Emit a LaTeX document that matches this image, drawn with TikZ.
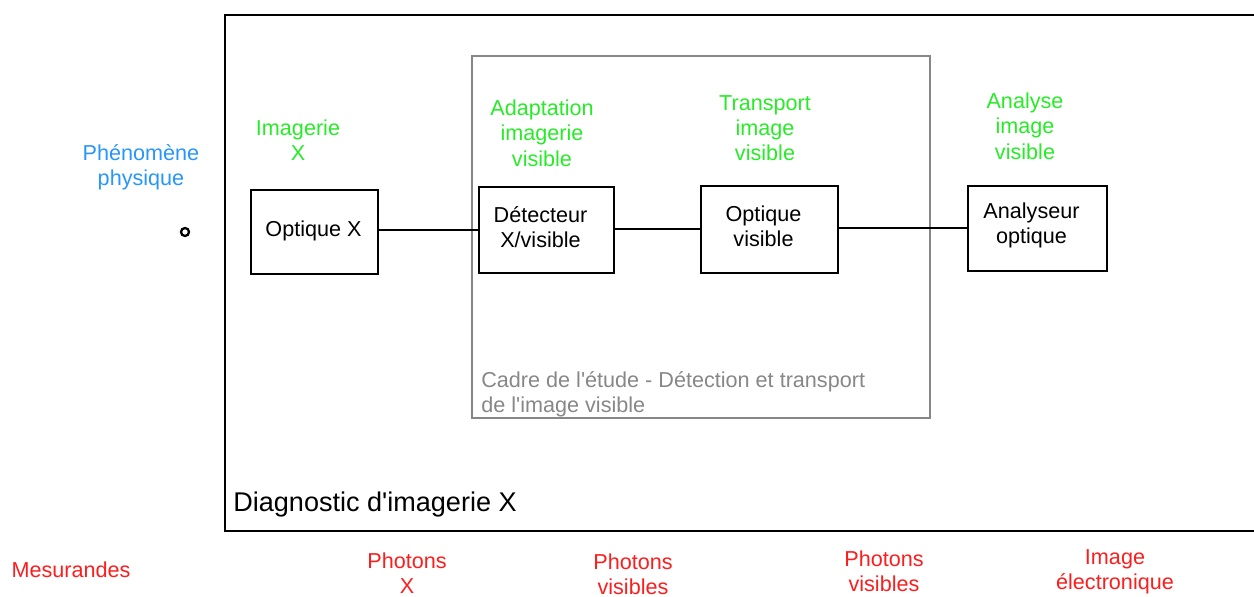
\documentclass[tikz,border=0pt]{standalone}
\usepackage{fontspec}
\setmainfont{Liberation Sans}
\definecolor{lblgreen}{RGB}{40,235,40}
\definecolor{lblblue}{RGB}{40,150,250}
\definecolor{lblred}{RGB}{250,30,30}
\definecolor{framegray}{RGB}{135,135,135}
\newcommand{\sq}{\textquotesingle}
\tikzset{
  txt/.style={font=\fontsize{12.3}{14.4}\selectfont, align=center, inner sep=0pt},
  greenlbl/.style={txt, text=lblgreen},
  redlbl/.style={txt, text=lblred},
  bluelbl/.style={txt, text=lblblue},
  blockbox/.style={draw=black, line width=1.3pt, inner sep=0pt, minimum width=#1},
  boxtext/.style={txt, text=black, xshift=-6*0.02cm, yshift=3*0.02cm},
  conn/.style={line width=1.3pt},
}
\begin{document}
\begin{tikzpicture}[x=0.02cm,y=-0.02cm]
\useasboundingbox (0,0) rectangle (1254,597);
% outer frame
\draw[line width=1.5pt] (1260,15) -- (225,15) -- (225,531) -- (1260,531);
% study frame
\draw[framegray, line width=1.6pt] (472,56) rectangle (930,418);
% blocks
\node[blockbox=127*0.02cm, minimum height=84*0.02cm,
      label={[txt, text=black, xshift=-1*0.02cm, yshift=1*0.02cm]center:Optique X}] (ox) at (314.5,232) {};
\node[blockbox=135*0.02cm, minimum height=86*0.02cm,
      label={[boxtext]center:Détecteur\\X/visible}] (det) at (546.5,230) {};
\node[blockbox=137*0.02cm, minimum height=87*0.02cm,
      label={[boxtext]center:Optique\\visible}] (ov) at (769.5,229.5) {};
\node[blockbox=139*0.02cm, minimum height=85*0.02cm,
      label={[boxtext]center:Analyseur\\optique}] (an) at (1037.5,228.5) {};
% connectors
\draw[conn] (ox.east |- 0,230) -- (det.west |- 0,230);
\draw[line width=1.7pt] (ox.east |- 0,230) -- ++(17,0);
\draw[conn] (det.east |- 0,229) -- (ov.west |- 0,229);
\draw[conn] (ov.east |- 0,228) -- (an.west |- 0,228);
% small circle
\node[draw=black, line width=1.3pt, circle, minimum size=8*0.02cm, inner sep=0pt] (src) at (185,232) {};
% green labels
\node[greenlbl] (l1) at (298,140) {Imagerie\\X};
\node[greenlbl] (l2) at (542,133) {Adaptation\\imagerie\\visible};
\node[greenlbl] (l3) at (765,128) {Transport\\image\\visible};
\node[greenlbl] (l4) at (1025,126) {Analyse\\image\\visible};
% blue label
\node[bluelbl] (phen) at (141,167) {Phénomène\\physique};
% gray caption
\node[txt, text=framegray, align=left, anchor=north west] (cadre) at (481,371) {Cadre de l\sq étude - Détection et transport\\de l\sq image visible};
% diagnostic caption
\node[inner sep=0pt, anchor=west, font=\fontsize{15.4}{18}\selectfont] (diag) at (233,505) {Diagnostic d\sq imagerie X};
% red labels
\node[redlbl] (m0) at (71,570) {Mesurandes};
\node[redlbl] (m1) at (407,573.5) {Photons\\X};
\node[redlbl] (m2) at (633,574) {Photons\\visibles};
\node[redlbl] (m3) at (884,571) {Photons\\visibles};
\node[redlbl] (m4) at (1115,571.5) {Image\\électronique};
\end{tikzpicture}
\end{document}
